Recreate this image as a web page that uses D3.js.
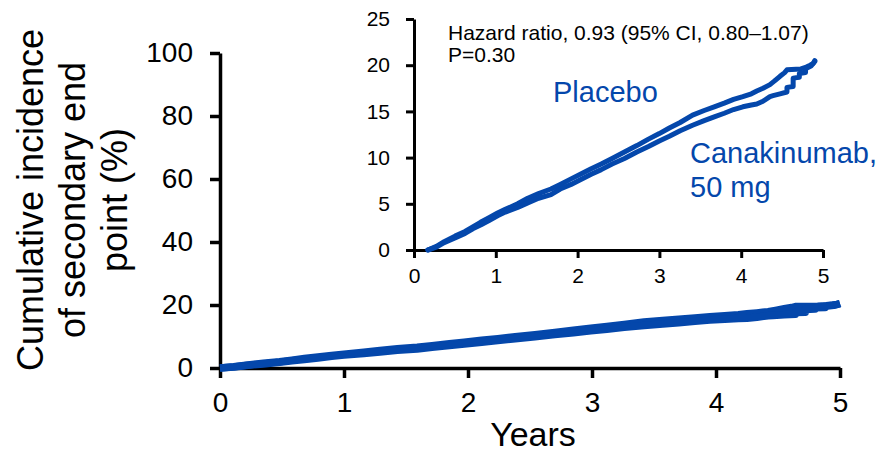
<!DOCTYPE html>
<html>
<head>
<meta charset="utf-8">
<script src="https://cdn.jsdelivr.net/npm/d3@7"></script>
<style>
  body { margin: 0; background: #fff; }
  text { font-family: Arial, "Liberation Sans", sans-serif; }
</style>
</head>
<body>
<div id="chart"></div>
<script>
// Cumulative incidence, years since randomization
var placeboYears = [0, 0.11, 0.21, 0.35, 0.48, 0.58, 0.68, 0.79, 0.90, 1.00,
    1.16, 1.29, 1.43, 1.59, 1.71, 1.85, 1.97, 2.11, 2.24, 2.38,
    2.54, 2.70, 2.85, 2.99, 3.12, 3.26, 3.42, 3.57, 3.70, 3.83,
    3.95, 4.07, 4.18, 4.25, 4.33, 4.42, 4.48, 4.55, 4.61, 4.64,
    4.82, 4.89, 4.94, 4.98, 5.0];
var placeboPct = [0, 0.4, 0.9, 1.5, 2.0, 2.5, 3.0, 3.5, 4.0, 4.4,
    5.0, 5.6, 6.1, 6.6, 7.1, 7.7, 8.2, 8.8, 9.3, 9.9,
    10.6, 11.3, 12.0, 12.6, 13.2, 13.8, 14.6, 15.1, 15.5, 15.9,
    16.3, 16.6, 16.9, 17.2, 17.5, 17.9, 18.3, 18.8, 19.2, 19.5,
    19.6, 19.8, 20.0, 20.2, 20.5];

var canaYears = [0, 0.11, 0.21, 0.35, 0.48, 0.58, 0.68, 0.79, 0.90, 1.00,
    1.16, 1.29, 1.43, 1.59, 1.71, 1.85, 1.97, 2.11, 2.24, 2.38,
    2.54, 2.70, 2.85, 2.99, 3.12, 3.26, 3.42, 3.57, 3.70, 3.83,
    3.95, 4.07, 4.18, 4.25, 4.33, 4.42, 4.46, 4.55, 4.64, 4.64,
    4.72, 4.72, 4.80, 4.80, 4.88, 4.88, 4.95, 5.0];
var canaPct = [0, 0.3, 0.8, 1.3, 1.8, 2.3, 2.7, 3.2, 3.7, 4.1,
    4.6, 5.1, 5.6, 6.0, 6.6, 7.1, 7.6, 8.2, 8.7, 9.3,
    9.9, 10.6, 11.2, 11.8, 12.3, 12.9, 13.5, 14.0, 14.4, 14.8,
    15.2, 15.5, 15.7, 15.8, 16.1, 16.6, 16.7, 16.9, 17.1, 17.6,
    17.7, 18.6, 18.7, 19.1, 19.2, 19.6, 19.9, 20.4];

var xTicks = [0, 1, 2, 3, 4, 5];
var yTicksMain = [0, 20, 40, 60, 80, 100];
var yTicksInset = [0, 5, 10, 15, 20, 25];
var yTitleLines = ["Cumulative incidence", "of secondary end", "point (%)"];
var annotLines = ["Hazard ratio, 0.93 (95% CI, 0.80\u20131.07)", "P=0.30"];

// the inset's drawn time axis does not line up with the main one
var insetT0 = 0.17, insetK = 0.946;

var blue = "#0447ab";
var width = 879, height = 453;
var fmt = d3.format("d");

var svg = d3.select("#chart").append("svg")
    .attr("width", width)
    .attr("height", height);

var series = [
    placeboYears.map(function (t, i) { return {t: t, v: placeboPct[i]}; }),
    canaYears.map(function (t, i) { return {t: t, v: canaPct[i]}; })
];

// ---- main plot
var x = d3.scaleLinear().domain([0, 5]).range([220, 840]);
var y = d3.scaleLinear().domain([0, 100]).range([368, 53]);

var xAxis = svg.append("g")
    .attr("transform", "translate(0,368)")
    .call(d3.axisBottom(x).tickValues(xTicks).tickFormat(fmt)
        .tickSize(10).tickSizeOuter(0).tickPadding(14));
var yAxis = svg.append("g")
    .attr("transform", "translate(220,0)")
    .call(d3.axisLeft(y).tickValues(yTicksMain).tickFormat(fmt)
        .tickSize(10).tickSizeOuter(0).tickPadding(17));

[xAxis, yAxis].forEach(function (g) {
    g.select(".domain").attr("stroke", "#000").attr("stroke-width", 3.5);
    g.selectAll(".tick line").attr("stroke", "#000").attr("stroke-width", 3.5);
    g.selectAll(".tick text").attr("font-size", 28).attr("fill", "#000")
        .attr("font-family", "Arial, 'Liberation Sans', sans-serif");
});

var lineMain = d3.line()
    .x(function (d) { return x(d.t); })
    .y(function (d) { return y(d.v); });

svg.append("g").selectAll("path")
    .data(series)
    .enter().append("path")
    .attr("d", lineMain)
    .attr("fill", "none")
    .attr("stroke", blue)
    .attr("stroke-width", 7.5)
    .attr("stroke-linejoin", "round");

svg.append("text")
    .attr("x", 533)
    .attr("y", 446)
    .attr("text-anchor", "middle")
    .attr("font-size", 34)
    .text("Years");

var yTitle = svg.append("text")
    .attr("transform", "translate(43,200) rotate(-90)")
    .attr("text-anchor", "middle")
    .attr("font-size", 36);
yTitleLines.forEach(function (s, i) {
    yTitle.append("tspan").attr("x", 0).attr("y", i * 42).text(s);
});

// ---- inset
var xi = d3.scaleLinear().domain([0, 5]).range([414, 823]);
var yi = d3.scaleLinear().domain([0, 25]).range([250, 19]);

var xiAxis = svg.append("g")
    .attr("transform", "translate(0,250)")
    .call(d3.axisBottom(xi).tickValues(xTicks).tickFormat(fmt)
        .tickSize(8).tickSizeOuter(0).tickPadding(10));
var yiAxis = svg.append("g")
    .attr("transform", "translate(414,0)")
    .call(d3.axisLeft(yi).tickValues(yTicksInset).tickFormat(fmt)
        .tickSize(8).tickSizeOuter(0).tickPadding(16));

[xiAxis, yiAxis].forEach(function (g) {
    g.select(".domain").attr("stroke", "#000").attr("stroke-width", 3);
    g.selectAll(".tick line").attr("stroke", "#000").attr("stroke-width", 3);
    g.selectAll(".tick text").attr("font-size", 21).attr("fill", "#000")
        .attr("font-family", "Arial, 'Liberation Sans', sans-serif");
});

var lineInset = d3.line()
    .x(function (d) { return xi(insetT0 + d.t * insetK); })
    .y(function (d) { return yi(d.v); });

svg.append("g").selectAll("path")
    .data(series)
    .enter().append("path")
    .attr("d", lineInset)
    .attr("fill", "none")
    .attr("stroke", blue)
    .attr("stroke-width", 5)
    .attr("stroke-linejoin", "round")
    .attr("stroke-linecap", "round");

annotLines.forEach(function (s, i) {
    svg.append("text")
        .attr("x", 448)
        .attr("y", 40 + i * 22)
        .attr("font-size", 21)
        .text(s);
});

svg.append("text")
    .attr("x", 553).attr("y", 102)
    .attr("font-size", 29).attr("fill", blue)
    .text("Placebo");
svg.append("text")
    .attr("x", 690).attr("y", 163)
    .attr("font-size", 29).attr("fill", blue)
    .text("Canakinumab,");
svg.append("text")
    .attr("x", 690).attr("y", 197)
    .attr("font-size", 29).attr("fill", blue)
    .text("50 mg");
</script>
</body>
</html>
